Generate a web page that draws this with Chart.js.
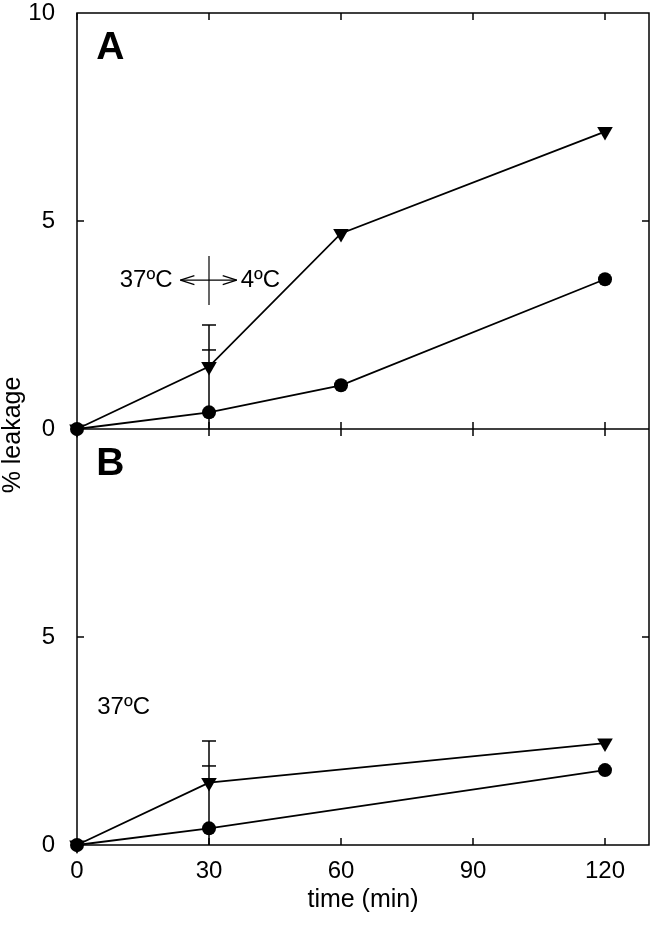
<!DOCTYPE html>
<html>
<head>
<meta charset="utf-8">
<script src="https://cdn.jsdelivr.net/npm/chart.js@4.4.1/dist/chart.umd.min.js"></script>
<style>
  html, body { margin: 0; padding: 0; background: #fff; }
  #wrap { width: 658px; height: 934px; position: relative; }
</style>
</head>
<body>
<div id="wrap"><canvas id="leak"></canvas></div>
<script>
// panel A (37ºC -> 4ºC at 30 min)
const timesA = [0, 30, 60, 120];
const circlesA = [0, 0.4, 1.05, 3.6];
const trianglesA = [0, 1.5, 4.7, 7.15];
// panel B (37ºC throughout)
const timesB = [0, 30, 120];
const circlesB = [0, 0.4, 1.8];
const trianglesB = [0, 1.5, 2.45];
// error bars at 30 min (upper ends only, same in both panels)
const errTime = 30;
const errTriangleHigh = 2.5;
const errCircleHigh = 1.9;
const xTicks = [0, 30, 60, 90, 120];
const yTicks = [0, 5, 10];

const FONT = '"Liberation Sans", Arial, sans-serif';

function pts(xs, ys) { return xs.map((x, i) => ({ x: x, y: ys[i] })); }

function series(label, xs, ys, axis, style) {
  return {
    label: label,
    data: pts(xs, ys),
    yAxisID: axis,
    borderColor: '#000',
    backgroundColor: '#000',
    borderWidth: 1.8,
    pointStyle: style,
    pointRotation: style === 'triangle' ? 180 : 0,
    pointRadius: style === 'triangle' ? 9 : 7,
    pointBorderWidth: 0,
    tension: 0,
    clip: false
  };
}

function line(ctx, x1, y1, x2, y2) {
  ctx.beginPath(); ctx.moveTo(x1, y1); ctx.lineTo(x2, y2); ctx.stroke();
}

const decor = {
  id: 'decor',
  beforeDatasetsDraw(chart) {
    const { ctx, chartArea: a, scales } = chart;
    const x = scales.x, yA = scales.yA, yB = scales.yB;
    const mid = yA.getPixelForValue(0);
    const tl = 7;
    ctx.save();
    ctx.strokeStyle = '#000';
    ctx.lineWidth = 1.5;
    ctx.strokeRect(a.left, a.top, a.right - a.left, a.bottom - a.top);
    line(ctx, a.left, mid, a.right, mid);
    xTicks.forEach(t => {
      const px = x.getPixelForValue(t);
      line(ctx, px, a.top, px, a.top + tl);
      line(ctx, px, mid - tl, px, mid + tl);
      line(ctx, px, a.bottom, px, a.bottom - tl);
    });
    [yA, yB].forEach(s => {
      const py = s.getPixelForValue(5);
      line(ctx, a.left, py, a.left + tl, py);
      line(ctx, a.right, py, a.right - tl, py);
    });
    // error bars
    const ex = x.getPixelForValue(errTime);
    [yA, yB].forEach(s => {
      const top = s.getPixelForValue(errTriangleHigh);
      line(ctx, ex, s.getPixelForValue(0), ex, top);
      line(ctx, ex - 7, top, ex + 7, top);
      const c = s.getPixelForValue(errCircleHigh);
      line(ctx, ex - 7, c, ex + 7, c);
    });
    // temperature switch marker in A
    ctx.lineWidth = 1.2;
    line(ctx, ex, yA.getPixelForValue(4.16), ex, yA.getPixelForValue(2.98));
    const ay = yA.getPixelForValue(3.58);
    const ax1 = x.getPixelForValue(23.5), ax2 = x.getPixelForValue(36.3);
    line(ctx, ax1, ay, ax2, ay);
    line(ctx, ax1, ay, ax1 + 14, ay - 4.5); line(ctx, ax1, ay, ax1 + 14, ay + 4.5);
    line(ctx, ax2, ay, ax2 - 14, ay - 4.5); line(ctx, ax2, ay, ax2 - 14, ay + 4.5);

    ctx.fillStyle = '#000';
    ctx.textBaseline = 'middle';
    ctx.font = '24px ' + FONT;
    ctx.textAlign = 'right';
    ctx.fillText('37ºC', x.getPixelForValue(21.7), ay);
    ctx.textAlign = 'left';
    ctx.fillText('4ºC', x.getPixelForValue(37.2), ay);
    ctx.fillText('37ºC', x.getPixelForValue(4.6), yB.getPixelForValue(3.32));
    ctx.font = 'bold 39px ' + FONT;
    ctx.fillText('A', x.getPixelForValue(4.4), yA.getPixelForValue(9.15));
    ctx.fillText('B', x.getPixelForValue(4.4), yB.getPixelForValue(9.15));
    // shared y title
    ctx.font = '25px ' + FONT;
    ctx.translate(13, (a.top + a.bottom) / 2 + 6);
    ctx.rotate(-Math.PI / 2);
    ctx.textAlign = 'center';
    ctx.fillText('% leakage', 0, 0);
    ctx.restore();
  }
};

function yAxis(hideTop) {
  return {
    type: 'linear',
    position: 'left',
    stack: 'panels',
    stackWeight: 1,
    min: 0, max: 10,
    grid: { display: false },
    border: { display: false },
    afterFit: s => { s.width = 77; s.paddingTop = 0; s.paddingBottom = 0; },
    afterBuildTicks: s => { s.ticks = yTicks.map(v => ({ value: v })); },
    ticks: {
      padding: 14,
      color: '#000',
      font: { family: FONT, size: 24 },
      callback: v => (hideTop && v === 10) ? '' : String(v)
    }
  };
}

new Chart(document.getElementById('leak'), {
  type: 'line',
  data: {
    datasets: [
      series('A circles', timesA, circlesA, 'yA', 'circle'),
      series('A triangles', timesA, trianglesA, 'yA', 'triangle'),
      series('B circles', timesB, circlesB, 'yB', 'circle'),
      series('B triangles', timesB, trianglesB, 'yB', 'triangle')
    ]
  },
  options: {
    responsive: true,
    maintainAspectRatio: false,
    animation: false,
    layout: { padding: { top: 13, right: 5, left: 0, bottom: 0 } },
    plugins: { legend: { display: false }, tooltip: { enabled: false } },
    scales: {
      x: {
        type: 'linear',
        min: 0, max: 130,
        grid: { display: false },
        border: { display: false },
        afterFit: s => { s.height = 89; s.paddingLeft = 0; s.paddingRight = 0; },
        afterBuildTicks: s => { s.ticks = xTicks.map(v => ({ value: v })); },
        ticks: { padding: 4, color: '#000', font: { family: FONT, size: 24 }, maxRotation: 0 },
        title: { display: true, text: 'time (min)', color: '#000', font: { family: FONT, size: 25 }, padding: { top: 0, bottom: 19 } }
      },
      yB: yAxis(true),
      yA: yAxis(false)
    }
  },
  plugins: [decor]
});
</script>
</body>
</html>
